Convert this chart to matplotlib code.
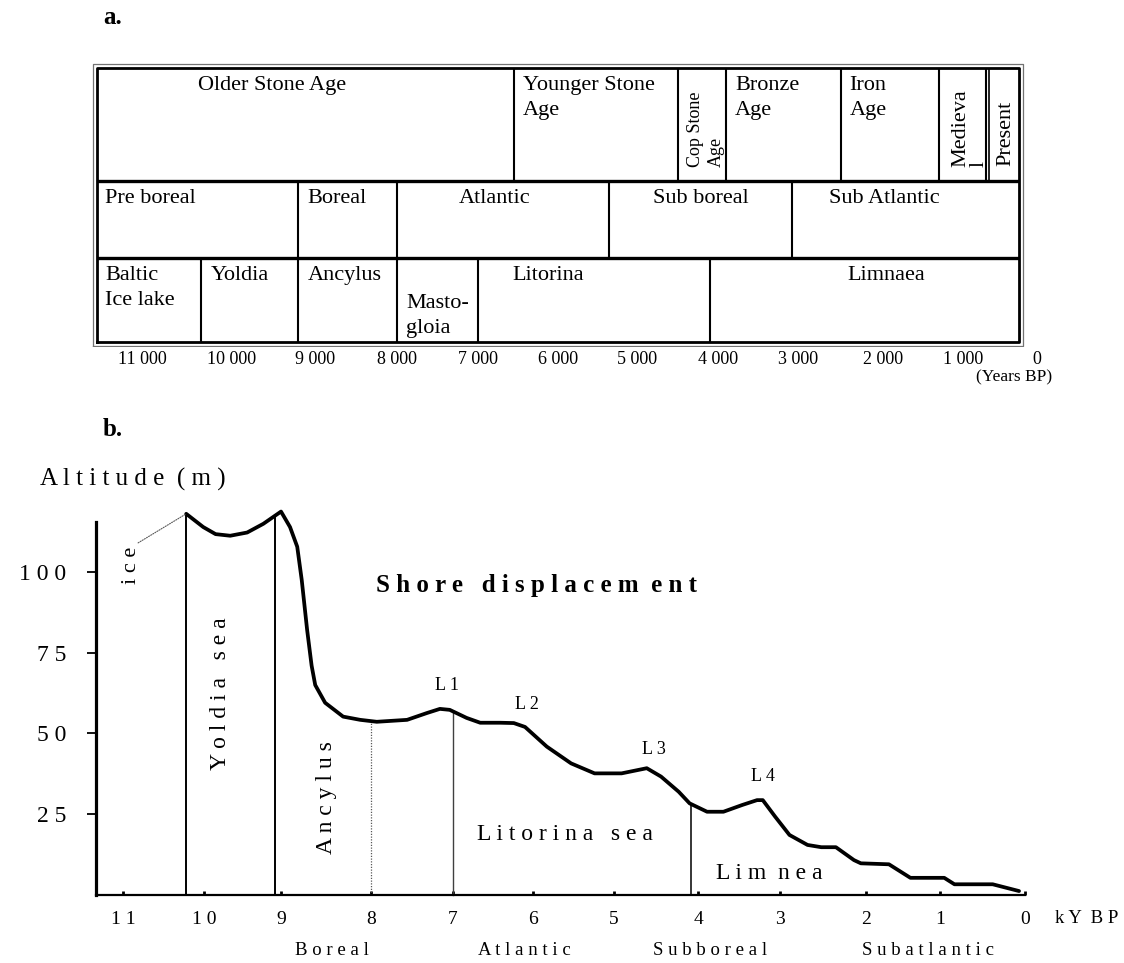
import numpy as np
import matplotlib
matplotlib.use("Agg")
import matplotlib.pyplot as plt

plt.rcParams['font.family'] = ['Liberation Serif', 'DejaVu Serif']

# ------------------------------------------------------------------ data
# Panel a: chronology table (years BP)
year_ticks = [11000, 10000, 9000, 8000, 7000, 6000, 5000, 4000, 3000, 2000, 1000, 0]
year_tick_labels = ["11 000", "10 000", "9 000", "8 000", "7 000", "6 000",
                    "5 000", "4 000", "3 000", "2 000", "1 000", "0"]

archaeo_bounds = [11500, 6550, 4500, 3900, 2500, 1300, 690, 240]
archaeo_labels = ["Older Stone Age", "Younger Stone\nAge", "Cop Stone\nAge",
                  "Bronze\nAge", "Iron\nAge", "Medieva\nl", "Present"]
present_start = 650

climate_bounds = [11500, 9200, 8000, 5350, 3080, 240]
climate_labels = ["Pre boreal", "Boreal", "Atlantic", "Sub boreal", "Sub Atlantic"]

baltic_bounds = [11500, 10350, 9200, 8000, 7000, 4100, 240]
baltic_labels = ["Baltic\nIce lake", "Yoldia", "Ancylus", "Masto-\ngloia",
                 "Litorina", "Limnaea"]

# Panel b: shore displacement curve (kyr BP, altitude m)
kyr = [10.22, 10.01, 9.85, 9.66, 9.44, 9.23, 9.00, 8.90, 8.82, 8.77, 8.71, 8.66,
       8.62, 8.51, 8.31, 8.12, 7.93, 7.56, 7.32, 7.16, 7.04, 6.83, 6.66, 6.41,
       6.24, 6.10, 5.83, 5.53, 5.24, 4.91, 4.61, 4.44, 4.23, 4.10, 3.89, 3.69,
       3.46, 3.28, 3.21, 3.06, 2.89, 2.68, 2.52, 2.35, 2.14, 2.06, 1.69, 1.40,
       0.95, 0.83, 0.38, 0.07]
altitude = [118.1, 114.0, 111.8, 111.3, 112.3, 115.0, 118.8, 114.0, 107.9, 97.6, 82.1, 71.0,
            65.0, 59.5, 55.2, 54.2, 53.6, 54.2, 56.3, 57.6, 57.3, 54.8, 53.3, 53.3,
            53.2, 52.0, 45.9, 40.7, 37.6, 37.6, 39.2, 36.6, 31.9, 28.3, 25.7, 25.7,
            27.8, 29.3, 29.3, 24.2, 18.5, 15.4, 14.7, 14.7, 10.7, 9.7, 9.4, 5.2,
            5.2, 3.2, 3.2, 1.1]

kyr_ticks = [11, 10, 9, 8, 7, 6, 5, 4, 3, 2, 1, 0]
kyr_tick_labels = ["1 1", "1 0", "9", "8", "7", "6", "5", "4", "3", "2", "1", "0"]
alt_ticks = [25, 50, 75, 100]
alt_tick_labels = ["2 5", "5 0", "7 5", "1 0 0"]

zone_bounds = [10.22, 9.08, 8.0, 7.0, 4.08]

zone_labels = ["Y o l d i a   s e a", "A n c y l u s", "L i t o r i n a   s e a", "L i m  n e a"]
zone_label_kyr = [9.78, 8.49, 5.60, 3.13]
zone_label_alt = [62.3, 30.0, 18.5, 6.4]
zone_label_rot = [90, 90, 0, 0]

peak_labels = ["L 1", "L 2", "L 3", "L 4"]
peak_kyr = [7.07, 6.07, 4.53, 3.21]
peak_alt = [65.0, 58.9, 44.9, 36.6]

period_labels = ["B o r e a l", "A t l a n t i c", "S u b b o r e a l", "S u b a t l a n t i c"]
period_kyr = [8.43, 6.11, 3.85, 1.16]

ice_label_pos = (10.90, 102.0)

# ------------------------------------------------------------------ layout
W, H = 1124, 963
fig = plt.figure(figsize=(W / 100, H / 100), dpi=100)


def warped_scale(tick_vals, tick_px):
    v = np.asarray(tick_vals, float)[::-1]
    p = -np.asarray(tick_px, float)[::-1]

    def fwd(x):
        return np.interp(np.asarray(x, float), v, p)

    def inv(y):
        return np.interp(np.asarray(y, float), p, v)
    return fwd, inv


# hand-drawn time axes of the original are slightly uneven
A_SCALE_V = [12000] + year_ticks + [-1000]
A_SCALE_PX = [52, 142, 232, 315, 397, 478, 558, 637, 718, 798, 883, 963, 1037, 1111]
B_SCALE_V = [12] + kyr_ticks + [-1]
B_SCALE_PX = [42, 123, 204, 281, 371, 453, 533, 614, 698, 780, 866, 940, 1025, 1110]

# ------------------------------------------------------------------ panel a
ax_a = fig.add_axes([88 / W, 1 - 347 / H, (1059.2 - 88) / W, 285 / H])
ax_a.set_xscale('function', functions=warped_scale(A_SCALE_V, A_SCALE_PX))
ax_a.set_xlim(11600, -300)
ax_a.set_ylim(0, 285)
for s in ax_a.spines.values():
    s.set_visible(False)
ax_a.set_yticks([])
ax_a.set_xticks(year_ticks)
ax_a.set_xticklabels(year_tick_labels)
ax_a.tick_params(axis='x', length=0, pad=3, labelsize=13)

Y_OUT_TOP, Y_TOP, Y_R12, Y_R23, Y_BOT, Y_OUT_BOT = 283, 279, 166, 89, 5, 1
left, right = archaeo_bounds[0], archaeo_bounds[-1]
# double border
ax_a.plot([11544, 190, 190, 11544, 11544], [Y_OUT_BOT, Y_OUT_BOT, Y_OUT_TOP, Y_OUT_TOP, Y_OUT_BOT],
          color='0.45', lw=0.9)
ax_a.plot([left, right, right, left, left], [Y_BOT, Y_BOT, Y_TOP, Y_TOP, Y_BOT],
          color='black', lw=2.0)
ax_a.hlines([Y_R12, Y_R23], right, left, color='black', lw=2.4)

rows = [(archaeo_bounds, Y_R12, Y_TOP), (climate_bounds, Y_R23, Y_R12),
        (baltic_bounds, Y_BOT, Y_R23)]
for bounds, y0, y1 in rows:
    ax_a.vlines(bounds[1:-1], y0, y1, color='black', lw=1.5)
ax_a.vlines([present_start], Y_R12, Y_TOP, color='black', lw=1.2)


def cell_text(x_left, y_top, s, dx, dy, **kw):
    ax_a.annotate(s, xy=(x_left, y_top), xycoords='data', xytext=(dx, -dy),
                  textcoords='offset pixels', ha='left', va='top', **kw)


def cell_text_rot(x_left, y_bot, s, dx, dy, **kw):
    ax_a.annotate(s, xy=(x_left, y_bot), xycoords='data', xytext=(dx, dy),
                  textcoords='offset pixels', ha='left', va='bottom', rotation=90, **kw)


FS = 16
LS = 1.45
# row 1
row1_offsets = [(101, 8), (9, 8), None, (9, 8), (9, 8), None, None]
for i, lab in enumerate(archaeo_labels):
    x0 = archaeo_bounds[i]
    if lab.startswith("Cop"):
        cell_text_rot(x0, Y_R12, lab, 10, 14, fontsize=13, linespacing=1.25)
    elif lab.startswith("Medieva"):
        cell_text_rot(x0, Y_R12, lab, 12, 14, fontsize=FS, linespacing=1.0)
    elif lab == "Present":
        cell_text_rot(present_start, Y_R12, lab, 7, 15, fontsize=FS)
    else:
        dx, dy = row1_offsets[i]
        cell_text(x0, Y_TOP, lab, dx, dy, fontsize=FS, linespacing=LS)

row2_offsets = [(8, 8), (9, 8), (62, 8), (44, 8), (37, 8)]
for i, lab in enumerate(climate_labels):
    dx, dy = row2_offsets[i]
    cell_text(climate_bounds[i], Y_R12, lab, dx, dy, fontsize=FS)

row3_offsets = [(8, 8), (10, 8), (9, 8), (9, 36), (34, 8), (137, 8)]
for i, lab in enumerate(baltic_labels):
    dx, dy = row3_offsets[i]
    cell_text(baltic_bounds[i], Y_R23, lab, dx, dy, fontsize=FS, linespacing=LS)

fig.text(1052 / W, 1 - 377 / H, "(Years BP)", ha='right', va='center', fontsize=12.5)
fig.text(103 / W, 1 - 18 / H, "a.", ha='left', va='center', fontsize=18, fontweight='bold')

# ------------------------------------------------------------------ panel b
ax_b = fig.add_axes([96.3 / W, 1 - 894.6 / H, (1025 - 96.3) / W, 372.4 / H])
ax_b.set_xscale('function', functions=warped_scale(B_SCALE_V, B_SCALE_PX))
ax_b.set_xlim(11.33, 0)
ax_b.set_ylim(0, 115.5)
ax_b.spines['top'].set_visible(False)
ax_b.spines['right'].set_visible(False)
ax_b.spines['left'].set_linewidth(2.3)
ax_b.spines['bottom'].set_linewidth(1.6)
ax_b.set_xticks(kyr_ticks)
ax_b.set_xticklabels(kyr_tick_labels)
ax_b.set_yticks(alt_ticks)
ax_b.set_yticklabels(alt_tick_labels)
ax_b.tick_params(axis='x', direction='in', length=3, width=2, pad=11.5, labelsize=14)
ax_b.tick_params(axis='y', direction='out', length=6.5, width=1.3, pad=15, labelsize=17)
ax_b.patch.set_visible(False)

kyr_arr = np.asarray(kyr)
alt_arr = np.asarray(altitude)
ax_b.plot(kyr_arr, alt_arr, color='black', lw=2.7, solid_joinstyle='round',
          solid_capstyle='round', zorder=3, clip_on=False)

tops = np.interp(zone_bounds, kyr_arr[::-1], alt_arr[::-1])
zone_styles = [dict(color='black', lw=1.4, ls='-'), dict(color='black', lw=1.4, ls='-'),
               dict(color='0.35', lw=0.9, ls=(0, (1, 1.2))), dict(color='0.25', lw=1.0, ls='-'),
               dict(color='black', lw=1.1, ls='-')]
for xb, top, st in zip(zone_bounds, tops, zone_styles):
    ax_b.plot([xb, xb], [0, top], zorder=2, clip_on=False, **st)

ax_b.annotate("i c e", xy=(kyr_arr[0], alt_arr[0]), xycoords='data',
              xytext=ice_label_pos, textcoords='data', rotation=90,
              ha='center', va='center', fontsize=16, annotation_clip=False,
              arrowprops=dict(arrowstyle='-', color='0.35', lw=0.8, linestyle=(0, (1, 1.2)),
                              relpos=(0.5, 1.0), shrinkA=2, shrinkB=0))

for lab, x, y, r in zip(zone_labels, zone_label_kyr, zone_label_alt, zone_label_rot):
    ax_b.text(x, y, lab, rotation=r, ha='center', va='center', fontsize=17)

for lab, x, y in zip(peak_labels, peak_kyr, peak_alt):
    ax_b.text(x, y, lab, ha='center', va='center', fontsize=13)

ax_b.text(5.96, 96.0, "S h o r e   d i s p l a c e m  e n t", ha='center', va='center',
          fontsize=18, fontweight='bold')

for lab, x in zip(period_labels, period_kyr):
    ax_b.annotate(lab, xy=(x, 0), xycoords='data', xytext=(0, -55.5),
                  textcoords='offset pixels', ha='center', va='center', fontsize=13.5,
                  annotation_clip=False)

fig.text(1118 / W, 1 - 918 / H, "k Y  B P", ha='right', va='center', fontsize=13.5)
fig.text(40 / W, 1 - 479 / H, "A l t i t u d e  ( m )", ha='left', va='center', fontsize=18)
fig.text(103 / W, 1 - 429 / H, "b.", ha='left', va='center', fontsize=18, fontweight='bold')

fig.savefig("out.png", dpi=100)
